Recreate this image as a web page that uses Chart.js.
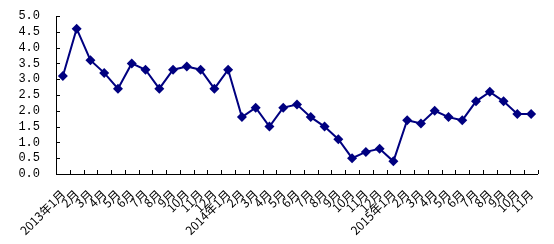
<!DOCTYPE html>
<html>
<head>
<meta charset="utf-8">
<script src="https://cdn.jsdelivr.net/npm/chart.js@4"></script>
<style>
  html,body{margin:0;padding:0;background:#fff;}
  #wrap{width:554px;height:244px;position:relative;}
</style>
</head>
<body>
<div id="wrap"><canvas id="chart"></canvas></div>
<script>
// monthly labels: 2013-01 .. 2015-11
const months = ["2013年1月","2月","3月","4月","5月","6月","7月","8月","9月","10月","11月","12月",
  "2014年1月","2月","3月","4月","5月","6月","7月","8月","9月","10月","11月","12月",
  "2015年1月","2月","3月","4月","5月","6月","7月","8月","9月","10月","11月"];
const values = [3.1,4.6,3.6,3.2,2.7,3.5,3.3,2.7,3.3,3.4,3.3,2.7,
  3.3,1.8,2.1,1.5,2.1,2.2,1.8,1.5,1.1,0.5,0.7,0.8,
  0.4,1.7,1.6,2.0,1.8,1.7,2.3,2.6,2.3,1.9,1.9];
const yMin = 0, yMax = 5, yStep = 0.5;

const NAVY = "#000080";

// inward tick marks, drawn from the scales
const innerTicks = {
  id: "innerTicks",
  afterDraw(c){
    const ctx = c.ctx, x = c.scales.x, y = c.scales.y, a = c.chartArea;
    ctx.save();
    ctx.strokeStyle = "#000";
    ctx.lineWidth = 1;
    ctx.beginPath();
    // axis lines
    ctx.moveTo(a.left + 0.5, a.top);
    ctx.lineTo(a.left + 0.5, a.bottom + 0.5);
    ctx.lineTo(a.right, a.bottom + 0.5);
    // y ticks
    for(let v = yMin; v <= yMax + 1e-9; v += yStep){
      const py = Math.round(y.getPixelForValue(v)) + 0.5;
      ctx.moveTo(a.left, py);
      ctx.lineTo(a.left + 4, py);
    }
    // x ticks at category borders
    const n = months.length;
    const half = (x.getPixelForValue(1) - x.getPixelForValue(0)) / 2;
    for(let i = 0; i <= n; i++){
      const px = Math.round(x.getPixelForValue(i) - half) + 0.5;
      ctx.moveTo(px, a.bottom);
      ctx.lineTo(px, a.bottom - 4);
    }
    ctx.stroke();
    ctx.restore();
  }
};

new Chart(document.getElementById("chart"), {
  type: "line",
  data: {
    labels: months,
    datasets: [{
      data: values,
      borderColor: NAVY,
      backgroundColor: NAVY,
      borderWidth: 2,
      pointStyle: "rectRot",
      pointRadius: 5,
      pointBorderWidth: 0,
      tension: 0
    }]
  },
  options: {
    responsive: true,
    maintainAspectRatio: false,
    animation: false,
    layout: { padding: { top: 16, right: 16, left: 0, bottom: 0 } },
    plugins: { legend: { display: false }, tooltip: { enabled: false } },
    scales: {
      x: {
        offset: true,
        grid: { display: false },
        border: { display: false },
        ticks: {
          autoSkip: false,
          minRotation: 45,
          maxRotation: 45,
          padding: 5,
          color: "#000",
          font: { family: "'Noto Sans CJK SC'", size: 12 }
        },
        afterFit(s){ s.height = 70; }
      },
      y: {
        min: yMin,
        max: yMax,
        grid: { display: false },
        border: { display: false },
        ticks: {
          autoSkip: false,
          stepSize: yStep,
          padding: 8,
          color: "#000",
          font: { family: "'Liberation Mono'", size: 12 },
          callback: (v) => Number(v).toFixed(1)
        },
        afterFit(s){ s.width = 56; }
      }
    }
  },
  plugins: [innerTicks]
});
</script>
</body>
</html>
